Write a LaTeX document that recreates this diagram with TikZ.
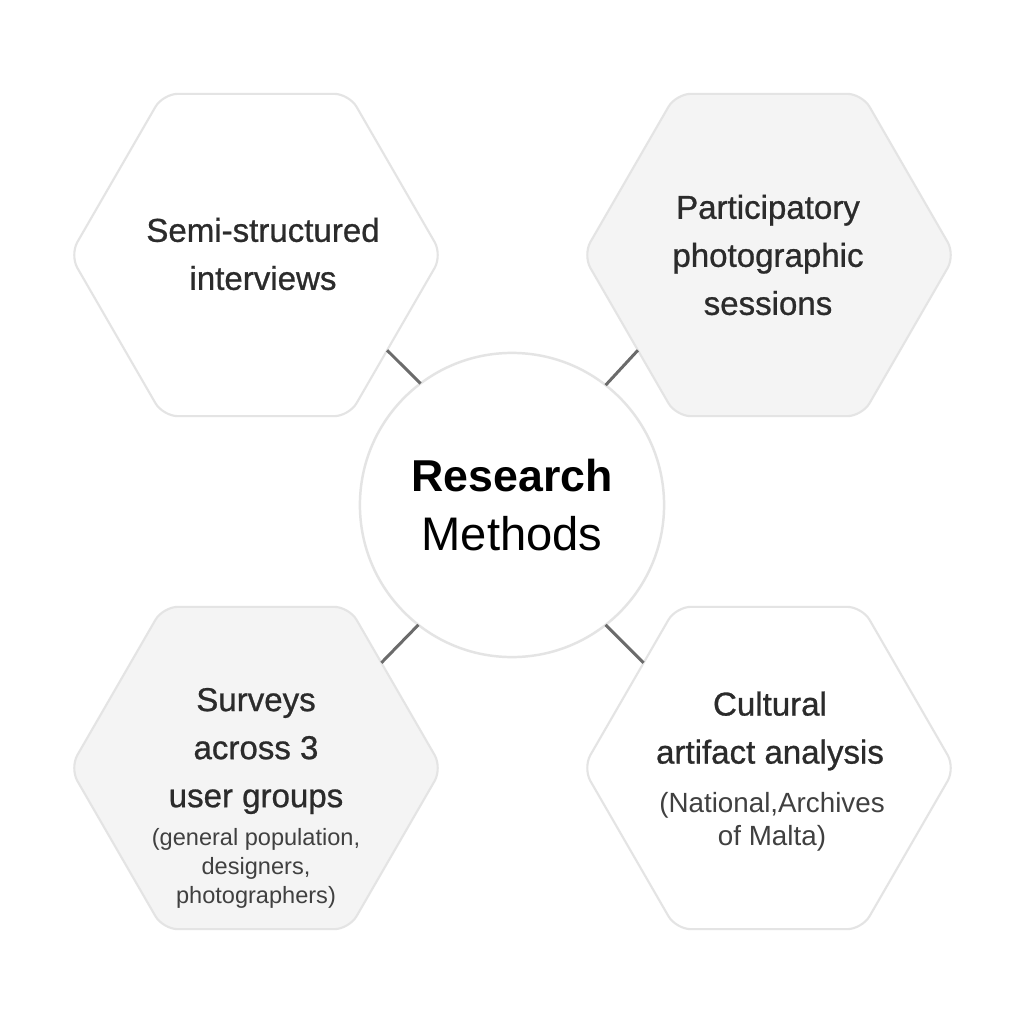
\documentclass[tikz,border=0pt]{standalone}
\usepackage{fontspec}
\setmainfont{Liberation Sans}
\usetikzlibrary{shapes.geometric, positioning}
\definecolor{hexline}{HTML}{E4E4E4}
\definecolor{hexfill}{HTML}{F4F4F4}
\definecolor{linkgray}{HTML}{6B6B6B}
\definecolor{ink}{HTML}{2B2B2B}

\begin{document}
\begin{tikzpicture}[x=0.01cm, y=-0.01cm,
  hexbox/.style={draw=hexline, line width=0.6pt, regular polygon,
    regular polygon sides=6, minimum size=3.72cm, inner sep=0pt,
    outer sep=0pt, rounded corners=0.15cm},
  hextitle/.style={text=ink, align=center,
    font=\fontsize{9.4}{13.66}\selectfont\addfontfeature{FakeBold=0.8}},
  hexnote/.style={text=ink!90, align=center,
    font=\fontsize{6.7}{8.25}\selectfont},
  link/.style={draw=linkgray, line width=0.85pt}]
  % Canvas
  \fill[white] (0,0) rectangle (1024,1024);

  % Hexagons
  \node[hexbox, fill=white] (tl) at (256,255) {};
  \node[hexbox, fill=hexfill] (tr) at (769,255) {};
  \node[hexbox, fill=hexfill] (bl) at (256,768) {};
  \node[hexbox, fill=white] (br) at (769,768) {};

  % Centre
  \node[circle, draw=hexline, line width=0.7pt, fill=white,
        minimum size=3.04cm, inner sep=0pt, outer sep=0pt, align=center,
        font=\fontsize{13.4}{16.8}\selectfont] (c) at (512,505)
    {{\fontsize{12.7}{16.8}\selectfont\bfseries Research}\\Methods};

  % Links
  \draw[link] (tl.-36) -- (c.127.5);
  \draw[link] (tr.216) -- (c.52.5);
  \draw[link] (bl.40) -- (c.232.5);
  \draw[link] (br.140) -- (c.-52.5);

  % Texts
  \node[hextitle] (tltext) at (263,254) {Semi-structured\\interviews};
  \node[hextitle] (trtext) at (768,255)
    {Participatory\\photographic\\sessions};
  \node[hextitle] (bltext) at (256,751) {Surveys\\across 3\\user groups};
  \node[hexnote] (blnote) at (256,868)
    {(general population,\\designers,\\photographers)};
  \node[hextitle] (brtext) at (770,731) {Cultural\\artifact analysis};
  \node[hexnote, font=\fontsize{7.9}{9.4}\selectfont] (brnote) at (772,822)
    {(National,Archives\\of Malta)};
\end{tikzpicture}
\end{document}
